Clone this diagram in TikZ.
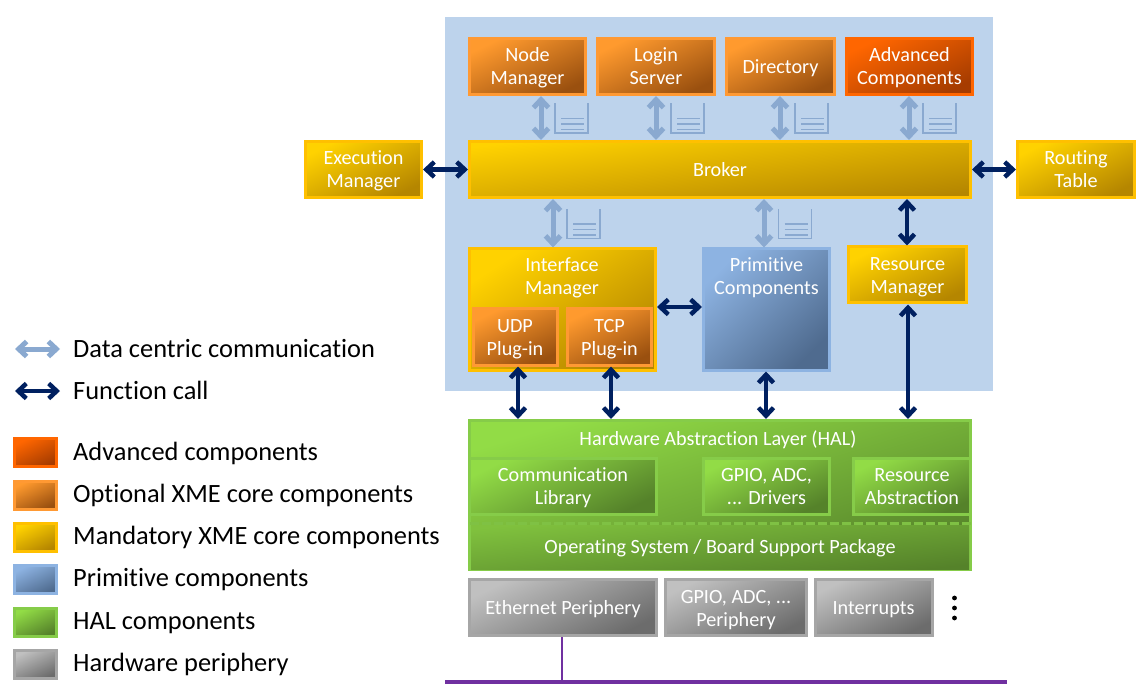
\documentclass[tikz,border=0pt]{standalone}
\usepackage{fontspec}
\setmainfont{Carlito}[Ligatures=NoCommon]
\usetikzlibrary{arrows.meta}
\definecolor{PanelBlue}{HTML}{BDD3EC}
\definecolor{DataBlue}{HTML}{8AA9D0}
\definecolor{CallBlue}{HTML}{002060}
\definecolor{BusPurple}{HTML}{7030A0}
\definecolor{AdvEdge}{HTML}{FF6600}
\definecolor{AdvTop}{HTML}{FF6600}
\definecolor{AdvLow}{HTML}{A63C00}
\definecolor{OptEdge}{HTML}{FF9933}
\definecolor{OptTop}{HTML}{FF9A2E}
\definecolor{OptLow}{HTML}{9A500F}
\definecolor{ManEdge}{HTML}{FFC000}
\definecolor{ManTop}{HTML}{FFD200}
\definecolor{ManLow}{HTML}{B58600}
\definecolor{PrimEdge}{HTML}{8DB3E2}
\definecolor{PrimTop}{HTML}{8DB3E2}
\definecolor{PrimLow}{HTML}{4F6B8F}
\definecolor{HalEdge}{HTML}{86CC49}
\definecolor{HalTop}{HTML}{92DC46}
\definecolor{HalLow}{HTML}{55822A}
\definecolor{PerEdge}{HTML}{A6A6A6}
\definecolor{PerTop}{HTML}{C0C0C0}
\definecolor{PerLow}{HTML}{6C6C6C}
\tikzset{
  block/.style={rectangle, minimum width=#1, minimum height=56, inner sep=0pt, align=center,
    text=white, line width=3pt, text height=38pt, text depth=1pt, font=\fontsize{20.2}{23}\selectfont},
  oneline/.style={text height=14pt, text depth=0.5pt},
  advblock/.style={block=#1, draw=AdvEdge, top color=AdvTop, bottom color=AdvLow, shading angle=26},
  optblock/.style={block=#1, draw=OptEdge, top color=OptTop, bottom color=OptLow, shading angle=26},
  manblock/.style={block=#1, draw=ManEdge, top color=ManTop, bottom color=ManLow, shading angle=26},
  primblock/.style={block=#1, draw=PrimEdge, top color=PrimTop, bottom color=PrimLow, shading angle=26},
  halblock/.style={block=#1, draw=HalEdge, top color=HalTop, bottom color=HalLow, shading angle=26},
  perblock/.style={block=#1, draw=PerEdge, top color=PerTop, bottom color=PerLow, shading angle=26},
  blocktitle/.style={inner sep=0pt, align=center, text=white, font=\fontsize{20.2}{23}\selectfont},
  datalink/.style={{Straight Barb[length=8pt,width=15pt]}-{Straight Barb[length=8pt,width=15pt]}, line width=5pt, DataBlue},
  calllink/.style={{Straight Barb[length=8pt,width=15pt]}-{Straight Barb[length=8pt,width=15pt]}, line width=4.5pt, CallBlue},
  legendtext/.style={anchor=west, inner sep=0pt, text height=16pt, text depth=0pt, font=\fontsize{26.4}{28}\selectfont},
  queueline/.style={DataBlue, line width=1.8pt},
}
\newcommand{\queueicon}[2]{
  \draw[queueline] (#1,#2) -- ++(0,29.5) -- ++(33,0) -- ++(0,-29.5);
  \foreach \k in {15,20.5,26} {\draw[queueline] (#1+6,#2+\k) -- ++(23,0);}
}
\begin{document}
\begin{tikzpicture}[x=1pt,y=-1pt]
  \useasboundingbox (0,0) rectangle (1144,695);
  \fill[PanelBlue] (445,17) rectangle (993,391);

  % core components
  \node[optblock=116] (nodemgr) at (527.5,66.5) {Node\\Manager};
  \node[optblock=117] (loginsrv) at (656,66.5) {Login\\Server};
  \node[optblock=108, oneline] (directory) at (780.5,66.5) {Directory};
  \node[advblock=126] (advanced) at (909.5,66.5) {Advanced\\Components};
  \node[manblock=501, oneline, shading angle=7] (broker) at (720,169.5) {Broker};
  \node[manblock=116] (execmgr) at (363.5,169.5) {Execution\\Manager};
  \node[manblock=117] (routing) at (1076,169.5) {Routing\\Table};

  \node[manblock=186, minimum height=121, anchor=north, shading angle=33] (ifacemgr) at (562.5,247.5) {};
  \node[blocktitle] (ifacetitle) at (562,277.5) {Interface\\Manager};
  \node[optblock=84] (udp) at (515,337) {UDP\\Plug-in};
  \node[optblock=84] (tcp) at (609.5,337) {TCP\\Plug-in};
  \node[primblock=126, minimum height=121, anchor=north, shading angle=44] (primitive) at (766.5,247.5) {};
  \node[blocktitle] (primtitle) at (766.5,277.5) {Primitive\\Components};
  \node[manblock=118] (resmgr) at (907.5,275) {Resource\\Manager};

  % hardware abstraction layer
  \node[halblock=501, minimum height=149, shading angle=17] (hal) at (720,495) {};
  \node[blocktitle] (haltitle) at (718,440) {Hardware Abstraction Layer (HAL)};
  \node[halblock=187] (commlib) at (563,486) {Communication\\Library};
  \node[halblock=126] (gpiodrv) at (766.5,486) {GPIO, ADC,\\... Drivers};
  \node[halblock=117] (resabs) at (912,486) {Resource\\Abstraction};
  \node[block=498, minimum height=44, top color=HalTop!70!HalLow, bottom color=HalLow, shading angle=6, oneline] (osbsp) at (720,547) {Operating System / Board Support Package};
  \draw[HalEdge!85!HalLow, dash pattern=on 9pt off 3pt, line width=2.5pt] (osbsp.north west) -- (osbsp.north east);

  % periphery
  \node[perblock=187, oneline] (ethernet) at (563,607.5) {Ethernet Periphery};
  \node[perblock=141] (gpioper) at (736,607.5) {GPIO, ADC, ...\\Periphery};
  \node[perblock=117, oneline] (interrupts) at (873.5,607.5) {Interrupts};
  \foreach \y in {598,608,618} {\fill (954.5,\y) circle (2.4);}
  \coordinate (busleft) at (445,682);
  \coordinate (busright) at (1007,682);
  \coordinate (stem) at (562,0);
  \draw[BusPurple, line width=4pt] (busleft) -- (busright);
  \draw[BusPurple, line width=2pt] (stem |- ethernet.south) -- (stem |- busleft);

  % links with message queues
  \foreach \x/\name/\qx in {541/nodemgr/555, 656/loginsrv/671, 780/directory/795, 909/advanced/923} {
    \coordinate (tap) at (\x,0);
    \draw[datalink] (tap |- \name.south) -- (tap |- broker.north);
    \queueicon{\qx}{103.5}
  }
  \foreach \x/\name/\qx in {553/ifacemgr/567, 764/primitive/778.5} {
    \coordinate (tap) at (\x,0);
    \draw[datalink] (tap |- broker.south) -- (tap |- \name.north);
    \queueicon{\qx}{209}
  }

  % function calls
  \draw[calllink] (execmgr.east) -- (broker.west);
  \draw[calllink] (broker.east) -- (routing.west);
  \coordinate (tap) at (907,0);
  \draw[calllink] (tap |- broker.south) -- (tap |- resmgr.north);
  \coordinate (tap) at (0,307);
  \draw[calllink] (tap -| ifacemgr.east) -- (tap -| primitive.west);
  \foreach \x/\name in {518/udp, 611/tcp, 766/primitive, 908/resmgr} {
    \coordinate (tap) at (\x,0);
    \draw[calllink] (tap |- \name.south) -- (tap |- hal.north);
  }

  % legend
  \coordinate (l1a) at (15,349); \coordinate (l1b) at (60,349);
  \coordinate (l2a) at (15,391); \coordinate (l2b) at (60,391);
  \draw[datalink] (l1a) -- (l1b);
  \draw[calllink] (l2a) -- (l2b);
  \node[legendtext] (ldata) at (73,349) {Data centric communication};
  \node[legendtext] (lcall) at (73,391) {Function call};
  \foreach \y/\ty/\sty/\txt in {452.5/452/advblock/Advanced components,
      495/494/optblock/Optional XME core components,
      537/536/manblock/Mandatory XME core components,
      579.5/578/primblock/Primitive components,
      622/621/halblock/HAL components,
      664.5/663/perblock/Hardware periphery} {
    \node[\sty=42, minimum height=28, text height=0pt, text depth=0pt] (swatch\sty) at (35.5,\y) {};
    \node[legendtext] (label\sty) at (73,\ty) {\txt};
  }
\end{tikzpicture}
\end{document}
